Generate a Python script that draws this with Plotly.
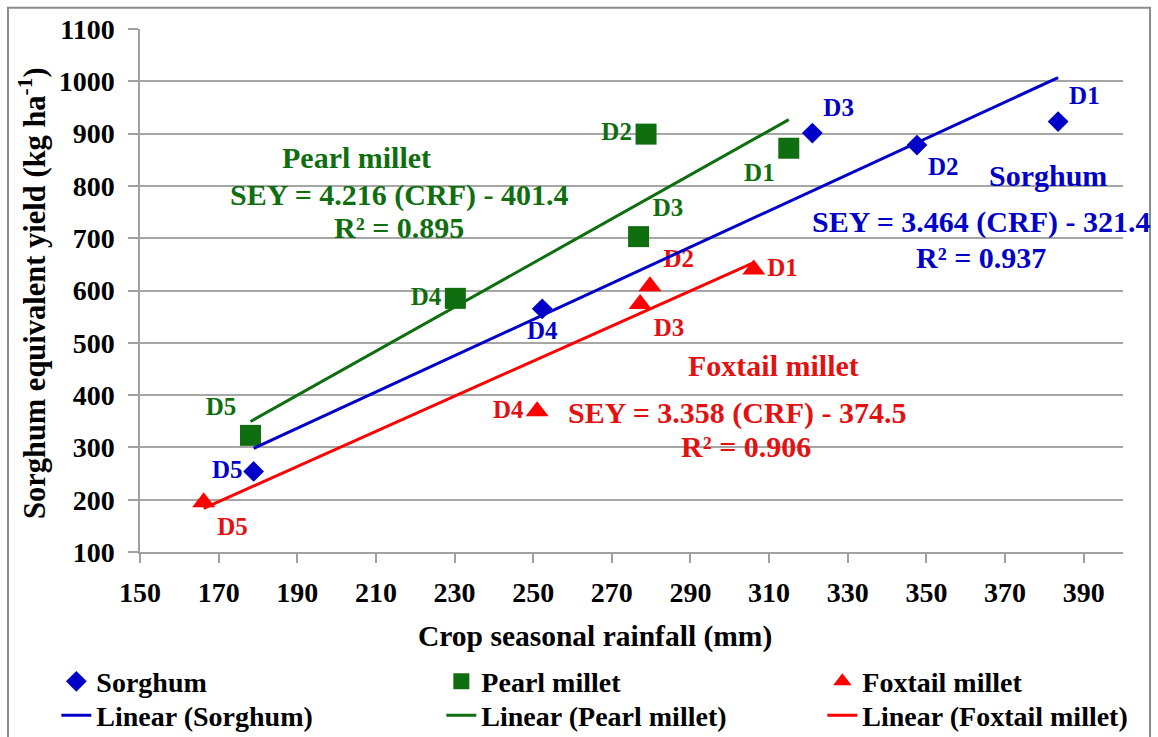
import plotly.graph_objects as go

# ---- data ----
depths = ["D1", "D2", "D3", "D4", "D5"]

rain_sorghum = [383.5, 347.6, 321.0, 252.3, 178.9]
sey_sorghum = [923, 878, 901, 565, 254]

rain_pearl = [315.0, 278.7, 276.8, 230.2, 178.1]
sey_pearl = [872, 899, 703, 585, 323]

rain_foxtail = [306.1, 279.7, 277.2, 251.0, 166.2]
sey_foxtail = [640, 608, 574, 369, 195]

# regression coefficients (slope, intercept) printed on the chart
fit_sorghum = [3.464, -321.4]
fit_pearl = [4.216, -401.4]
fit_foxtail = [3.358, -374.5]

x_ticks = list(range(150, 391, 20))
y_ticks = list(range(100, 1101, 100))

BLUE = "#0000c8"
GREEN = "#0f6e0f"
RED = "#ff0000"
RED_TXT = "#e31212"
FONT = "'Times New Roman', 'Liberation Serif', 'DejaVu Serif', serif"


def trend(xs, coef):
    x0, x1 = min(xs), max(xs)
    return [x0, x1], [coef[0] * x0 + coef[1], coef[0] * x1 + coef[1]]


def f(size, color="black"):
    return dict(family=FONT, size=size, color=color, weight="bold")


LW = [340, 336, 260]  # legend entry widths per column

fig = go.Figure()

fig.add_trace(go.Scatter(
    x=rain_sorghum, y=sey_sorghum, mode="markers+text", name="Sorghum",
    text=depths, legend="legend", legendwidth=LW[0],
    textposition=["top right", "bottom right", "top right", "bottom center", "middle left"],
    textfont=f(25, BLUE),
    marker=dict(symbol="diamond", size=16, color=BLUE),
))
fig.add_trace(go.Scatter(
    x=rain_pearl, y=sey_pearl, mode="markers+text", name="Pearl millet",
    text=depths, legend="legend", legendwidth=LW[1],
    textposition=["bottom left", "middle left", "top right", "middle left", "top left"],
    textfont=f(25, GREEN),
    marker=dict(symbol="square", size=21, color=GREEN),
))
fig.add_trace(go.Scatter(
    x=rain_foxtail, y=sey_foxtail, mode="markers+text", name="Foxtail millet",
    text=depths, legend="legend", legendwidth=LW[2],
    textposition=["middle right", "top right", "bottom right", "middle left", "bottom right"],
    textfont=f(25, RED_TXT),
    marker=dict(symbol="triangle-up", size=20, color=RED),
))

for i, (xs, coef, col, nm) in enumerate([
        (rain_sorghum, fit_sorghum, BLUE, "Linear (Sorghum)"),
        (rain_pearl, fit_pearl, GREEN, "Linear (Pearl millet)"),
        (rain_foxtail, fit_foxtail, RED, "Linear (Foxtail millet)")]):
    tx, ty = trend(xs, coef)
    fig.add_trace(go.Scatter(x=tx, y=ty, mode="lines", name=nm,
                             legend="legend2", legendwidth=LW[i],
                             line=dict(color=col, width=3)))

annotations = [
    dict(x=205.0, y=855, text="Pearl millet", font=f(30, GREEN)),
    dict(x=215.8, y=783, text="SEY = 4.216 (CRF) - 401.4", font=f(30, GREEN)),
    dict(x=215.8, y=721, text="R² = 0.895", font=f(30, GREEN)),
    dict(x=381.0, y=819, text="Sorghum", font=f(30, BLUE)),
    dict(x=364.0, y=731, text="SEY = 3.464 (CRF) - 321.4", font=f(30, BLUE)),
    dict(x=364.0, y=664, text="R² = 0.937", font=f(30, BLUE)),
    dict(x=311.0, y=457, text="Foxtail millet", font=f(30, RED_TXT)),
    dict(x=301.9, y=365, text="SEY = 3.358 (CRF) - 374.5", font=f(30, RED_TXT)),
    dict(x=304.0, y=302, text="R² = 0.906", font=f(30, RED_TXT)),
]
for a in annotations:
    a.update(xref="x", yref="y", showarrow=False, xanchor="center", yanchor="middle")

# axis titles (placed as in the reference)
annotations.append(dict(xref="paper", yref="paper", x=0.463, y=-0.161,
                        xanchor="center", yanchor="middle", showarrow=False,
                        text="Crop seasonal rainfall (mm)", font=f(29.5)))
annotations.append(dict(xref="paper", yref="paper", x=-0.1099, y=0.495,
                        xanchor="center", yanchor="middle", showarrow=False, textangle=-90,
                        text="Sorghum equivalent yield (kg ha<sup>-1</sup>)", font=f(30.5)))

leg_common = dict(orientation="h", x=-0.0851, xanchor="left", yanchor="top",
                  font=f(28), itemsizing="trace", bgcolor="rgba(0,0,0,0)")

fig.update_layout(
    template="none",
    width=1158, height=737,
    margin=dict(l=140, r=35, t=29, b=185, autoexpand=False),
    paper_bgcolor="white", plot_bgcolor="white",
    font=f(28),
    annotations=annotations,
    showlegend=True,
    legend=dict(y=-0.200, **leg_common),
    legend2=dict(y=-0.2647, **leg_common),
    shapes=[dict(type="rect", xref="paper", yref="paper",
                 x0=-0.1343, x1=1.0275, y0=-0.40, y1=1.0408,
                 line=dict(color="#8c8c8c", width=2), layer="below")],
)

fig.update_xaxes(
    range=[150, 400], tickvals=x_ticks, showgrid=False, zeroline=False, automargin=False,
    showline=True, linecolor="#a0a0a0", linewidth=1.5,
    ticks="outside", ticklen=9, tickcolor="#a0a0a0", tickwidth=1.5,
    ticklabelstandoff=6,
    tickfont=f(28),
)
fig.update_yaxes(
    range=[100, 1100], tickvals=y_ticks, showgrid=True, gridcolor="#a6a6a6", gridwidth=1.5,
    zeroline=False, automargin=False, showline=True, linecolor="#a0a0a0", linewidth=1.5,
    ticks="outside", ticklen=10, tickcolor="#a0a0a0", tickwidth=1.5,
    ticklabelstandoff=8,
    tickfont=f(28),
)

fig.write_html("out.html", config={"displayModeBar": False},
               post_script="document.body.style.margin='0';")
